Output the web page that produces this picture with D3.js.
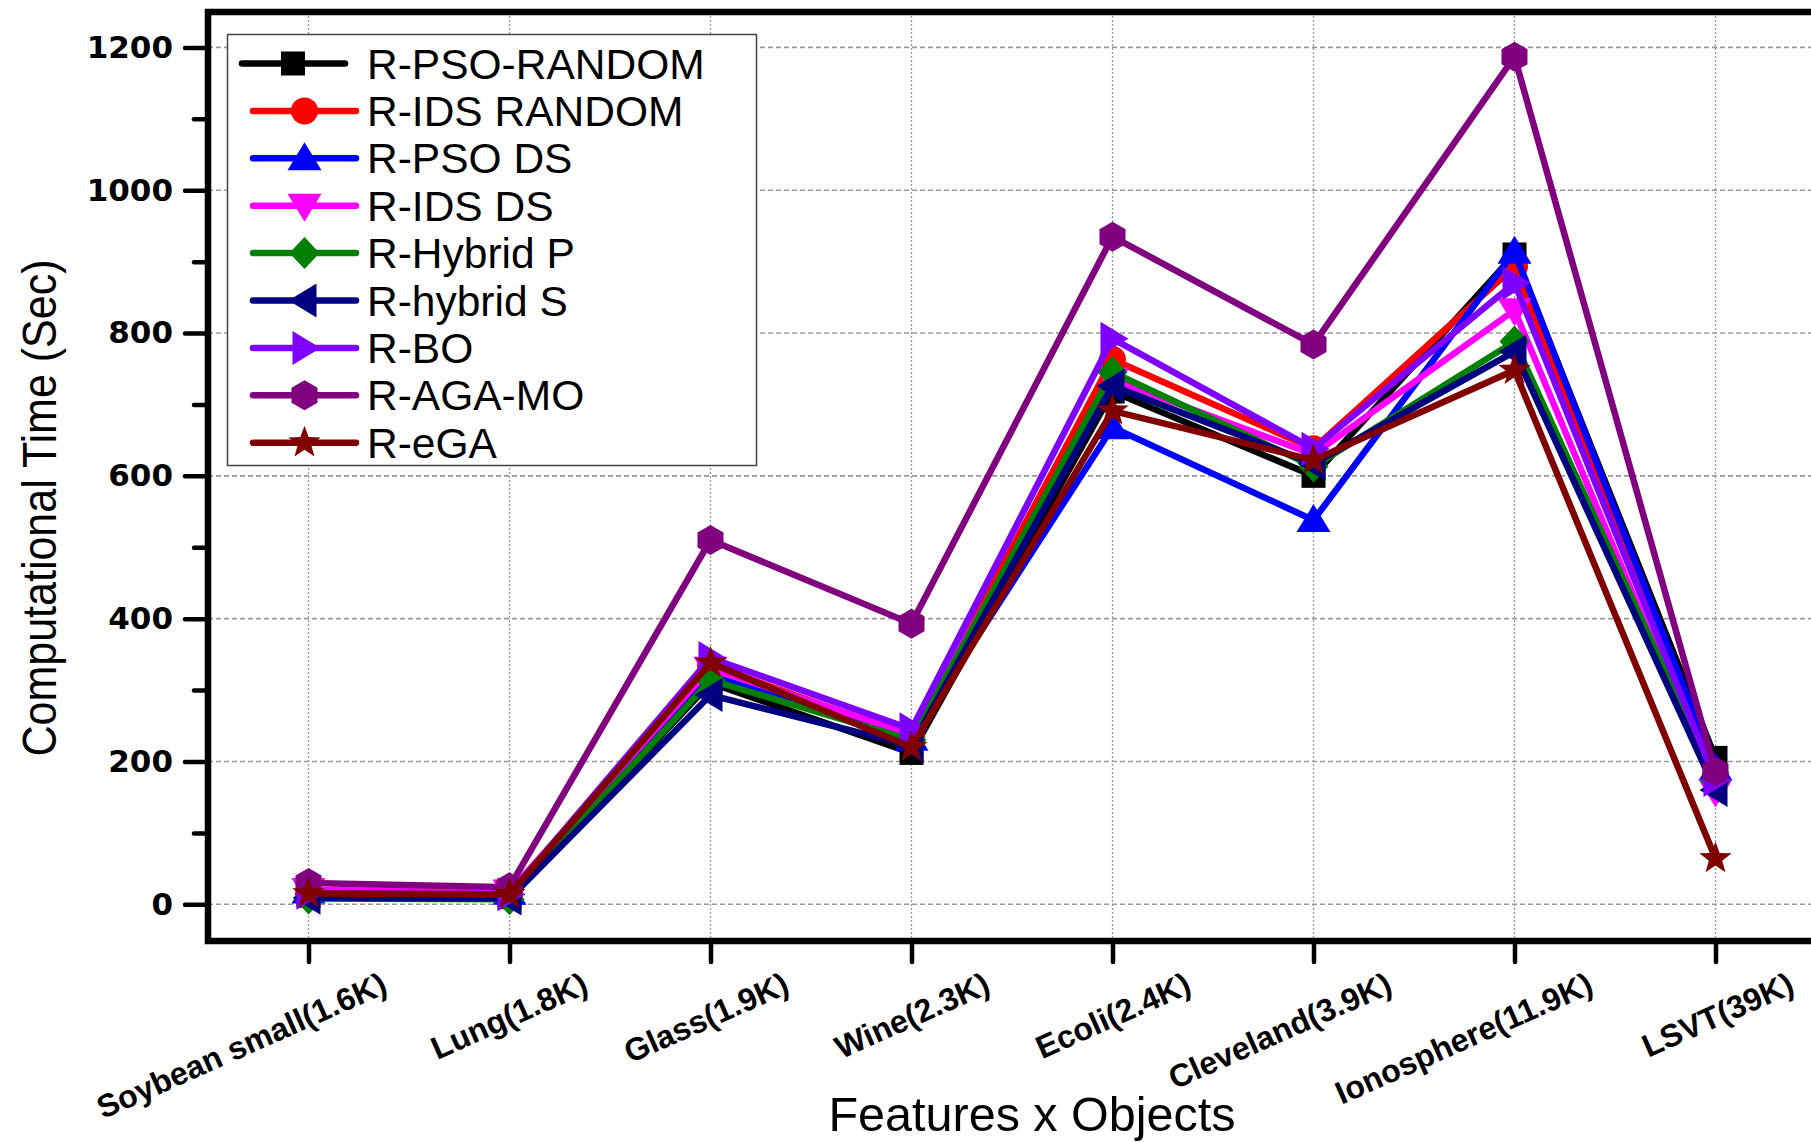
<!DOCTYPE html>
<html>
<head>
<meta charset="utf-8">
<script src="https://cdn.jsdelivr.net/npm/d3@7"></script>
<style>
  html, body { margin: 0; padding: 0; background: #fff; }
  svg { display: block; }
</style>
</head>
<body>
<svg id="chart" width="1811" height="1142"></svg>
<script>
// data
const categories = ["Soybean small(1.6K)", "Lung(1.8K)", "Glass(1.9K)", "Wine(2.3K)",
    "Ecoli(2.4K)", "Cleveland(3.9K)", "Ionosphere(11.9K)", "LSVT(39K)"];
const seriesNames = ["R-PSO-RANDOM", "R-IDS RANDOM", "R-PSO DS", "R-IDS DS",
    "R-Hybrid P", "R-hybrid S", "R-BO", "R-AGA-MO", "R-eGA"];
const psoRandom = [12, 10, 310, 212, 718, 600, 910, 205];
const idsRandom = [14, 12, 335, 235, 763, 638, 893, 180];
const psoDs     = [18, 16, 320, 232, 668, 538, 914, 190];
const idsDs     = [20, 18, 330, 238, 735, 630, 832, 158];
const hybridP   = [8, 7, 314, 230, 745, 613, 788, 172];
const hybridS   = [9, 8, 293, 222, 726, 617, 774, 160];
const rBo       = [16, 14, 345, 245, 792, 638, 870, 174];
const agaMo     = [30, 24, 510, 393, 935, 784, 1187, 186];
const rEga      = [15, 14, 338, 220, 691, 622, 748, 64];
const yTicks = [0, 200, 400, 600, 800, 1000, 1200];
const yMinorTicks = [100, 300, 500, 700, 900, 1100];

const seriesValues = [psoRandom, idsRandom, psoDs, idsDs, hybridP, hybridS, rBo, agaMo, rEga];
const colors = ["#000000", "#ff0000", "#0000ff", "#ff00ff", "#008000", "#000080", "#8000ff", "#800080", "#800000"];
const shapes = ["square", "circle", "up", "down", "diamond", "left", "right", "hex", "star"];

const svg = d3.select("#chart");
const plotLeft = 208, plotRight = 1816, plotTop = 12, plotBottom = 941;

const x = d3.scalePoint().domain(categories).range([plotLeft, plotRight]).padding(0.5);
const y = d3.scaleLinear().domain([0, 1200]).range([904.3, 47.4]);

// marker paths
function pts(list) {
    return "M" + list.map(p => p[0].toFixed(2) + "," + p[1].toFixed(2)).join("L") + "Z";
}
function markerPath(shape) {
    if (shape === "square") return pts([[-12, -12], [12, -12], [12, 12], [-12, 12]]);
    if (shape === "circle") return d3.symbol(d3.symbolCircle, Math.PI * 13.5 * 13.5)();
    if (shape === "up") return pts([[0, -16], [17, 12], [-17, 12]]);
    if (shape === "down") return pts([[0, 16], [17, -12], [-17, -12]]);
    if (shape === "left") return pts([[-16, 0], [12, -17], [12, 17]]);
    if (shape === "right") return pts([[16, 0], [-12, -17], [-12, 17]]);
    if (shape === "diamond") return pts([[0, -16], [15, 0], [0, 16], [-15, 0]]);
    if (shape === "hex") {
        const p = [];
        for (let k = 0; k < 6; k++) {
            const a = (-90 + 60 * k) * Math.PI / 180;
            p.push([15 * Math.cos(a), 15 * Math.sin(a)]);
        }
        return pts(p);
    }
    // star
    const p = [];
    for (let k = 0; k < 10; k++) {
        const a = (-90 + 36 * k) * Math.PI / 180;
        const r = k % 2 === 0 ? 17 : 7;
        p.push([r * Math.cos(a), r * Math.sin(a)]);
    }
    return pts(p);
}

// grid
svg.append("g")
    .selectAll("line")
    .data(yTicks)
    .join("line")
    .attr("x1", plotLeft).attr("x2", plotRight)
    .attr("y1", d => y(d)).attr("y2", d => y(d))
    .attr("stroke", "#9a9a9a")
    .attr("stroke-width", 1.6)
    .attr("stroke-dasharray", "5,3");
svg.append("g")
    .selectAll("line")
    .data(categories)
    .join("line")
    .attr("x1", d => x(d)).attr("x2", d => x(d))
    .attr("y1", plotTop).attr("y2", plotBottom)
    .attr("stroke", "#9a9a9a")
    .attr("stroke-width", 1.3)
    .attr("stroke-dasharray", "2,2");

// series
const line = d3.line().x((d, i) => x(categories[i])).y(d => y(d));
seriesValues.forEach((vals, s) => {
    const g = svg.append("g");
    g.append("path")
        .attr("d", line(vals))
        .attr("fill", "none")
        .attr("stroke", colors[s])
        .attr("stroke-width", 6.5);
    g.selectAll("path.m")
        .data(vals)
        .join("path")
        .attr("class", "m")
        .attr("d", markerPath(shapes[s]))
        .attr("transform", (d, i) => `translate(${x(categories[i])},${y(d)})`)
        .attr("fill", colors[s]);
});

// frame
svg.append("rect")
    .attr("x", plotLeft).attr("y", plotTop)
    .attr("width", plotRight + 10 - plotLeft).attr("height", plotBottom - plotTop)
    .attr("fill", "none")
    .attr("stroke", "#000")
    .attr("stroke-width", 6.5);

// y axis
const yAxis = svg.append("g")
    .attr("transform", `translate(${plotLeft - 3},0)`)
    .call(d3.axisLeft(y).tickValues(yTicks).tickFormat(d3.format("d")).tickSize(20).tickPadding(12));
yAxis.select(".domain").remove();
yAxis.selectAll("line").attr("stroke-width", 4.5).attr("stroke-linecap", "round");
yAxis.selectAll("text")
    .attr("font-family", "'DejaVu Sans', sans-serif")
    .attr("font-weight", "bold")
    .attr("font-size", 31)
    .attr("fill", "#000");
const yMinor = svg.append("g")
    .attr("transform", `translate(${plotLeft - 3},0)`)
    .call(d3.axisLeft(y).tickValues(yMinorTicks).tickSize(11).tickFormat(""));
yMinor.select(".domain").remove();
yMinor.selectAll("line").attr("stroke-width", 4.5).attr("stroke-linecap", "round");

// x axis
const xAxis = svg.append("g")
    .attr("transform", `translate(0,${plotBottom + 3})`)
    .call(d3.axisBottom(x).tickSize(18));
xAxis.select(".domain").remove();
xAxis.selectAll("line").attr("stroke-width", 4.5).attr("stroke-linecap", "round");
xAxis.selectAll("text")
    .attr("y", 0).attr("dy", 0)
    .attr("text-anchor", "end")
    .attr("transform", "translate(80,48) rotate(-24)")
    .attr("font-family", "'Liberation Sans', Arial, sans-serif")
    .attr("font-weight", "bold")
    .attr("font-size", 32)
    .attr("fill", "#000");

// axis titles
svg.append("text")
    .attr("transform", "translate(56,508) rotate(-90)")
    .attr("text-anchor", "middle")
    .attr("font-family", "'Liberation Sans Narrow', 'Liberation Sans', sans-serif")
    .attr("font-size", 48)
    .attr("textLength", 497)
    .attr("lengthAdjust", "spacingAndGlyphs")
    .text("Computational Time (Sec)");
svg.append("text")
    .attr("x", 1032).attr("y", 1131)
    .attr("text-anchor", "middle")
    .attr("font-family", "'Liberation Sans Narrow', 'Liberation Sans', sans-serif")
    .attr("font-size", 48)
    .attr("textLength", 407)
    .attr("lengthAdjust", "spacingAndGlyphs")
    .text("Features x Objects");

// legend
const legend = svg.append("g");
legend.append("rect")
    .attr("x", 227.5).attr("y", 34.5)
    .attr("width", 529).attr("height", 431)
    .attr("fill", "#fff")
    .attr("stroke", "#444")
    .attr("stroke-width", 1.5);
const rows = legend.selectAll("g.row")
    .data(seriesNames)
    .join("g")
    .attr("class", "row")
    .attr("transform", (d, i) => `translate(0,${63.5 + i * 47.4})`);
rows.append("line")
    .attr("x1", (d, i) => i === 0 ? 242 : 253)
    .attr("x2", (d, i) => i === 0 ? 345 : 356)
    .attr("stroke", (d, i) => colors[i])
    .attr("stroke-width", 6.5)
    .attr("stroke-linecap", "round");
rows.append("path")
    .attr("d", (d, i) => markerPath(shapes[i]))
    .attr("transform", (d, i) => `translate(${i === 0 ? 293 : 304.5},0)`)
    .attr("fill", (d, i) => colors[i]);
rows.append("text")
    .attr("x", 367).attr("y", 15)
    .attr("font-family", "'Liberation Sans', Arial, sans-serif")
    .attr("font-size", 42.5)
    .attr("fill", "#000")
    .text(d => d);
</script>
</body>
</html>
